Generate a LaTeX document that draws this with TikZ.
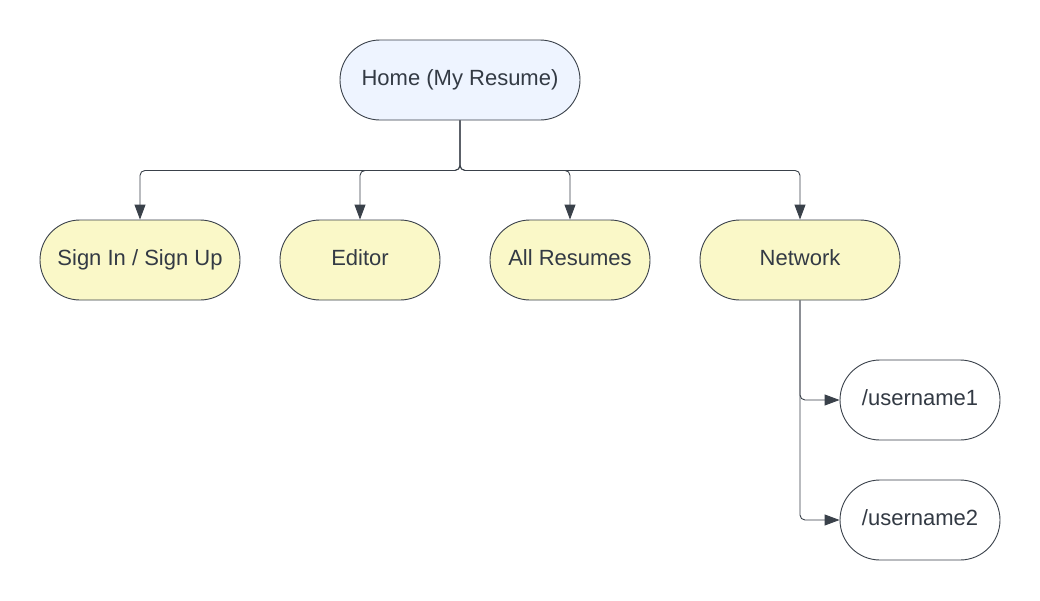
\documentclass[tikz,border=0pt]{standalone}
\usepackage{fontspec}
\setmainfont{Liberation Sans}
\usetikzlibrary{arrows.meta,shapes.misc}
\definecolor{strokec}{HTML}{3A414A}
\definecolor{textc}{HTML}{333A44}
\definecolor{homefill}{HTML}{EEF4FF}
\definecolor{yelfill}{HTML}{FAF8C8}
\tikzset{
  pill/.style={draw=strokec, line width=0.9pt, rounded rectangle, minimum height=80pt, inner xsep=0pt, text=textc, font=\fontsize{22}{26}\selectfont, text height=15pt, text depth=4pt},
  conn/.style={draw=strokec, line width=0.9pt, rounded corners=5pt, -{Triangle[length=15pt,width=11pt]}},
}
\begin{document}
\begin{tikzpicture}[x=1pt,y=-1pt]
\useasboundingbox[fill=white] (0,0) rectangle (1040,600);
\node[pill, fill=homefill, minimum width=240pt] (home) at (460,80) {Home (My Resume)};
\node[pill, fill=yelfill, minimum width=200pt] (signin) at (140,260) {Sign In / Sign Up};
\node[pill, fill=yelfill, minimum width=160pt] (editor) at (360,260) {Editor};
\node[pill, fill=yelfill, minimum width=160pt] (all) at (570,260) {All Resumes};
\node[pill, fill=yelfill, minimum width=200pt] (network) at (800,260) {Network};
\node[pill, fill=white, minimum width=160pt] (u1) at (920,400) {/username1};
\node[pill, fill=white, minimum width=160pt] (u2) at (920,520) {/username2};
\draw[conn] (home.south) -- ++(0,50) -| (signin.north);
\draw[conn] (home.south) -- ++(0,50) -| (editor.north);
\draw[conn] (home.south) -- ++(0,50) -| (all.north);
\draw[conn] (home.south) -- ++(0,50) -| (network.north);
\draw[conn] (network.south) |- (u1.west);
\draw[conn] (network.south) |- (u2.west);
\end{tikzpicture}
\end{document}
